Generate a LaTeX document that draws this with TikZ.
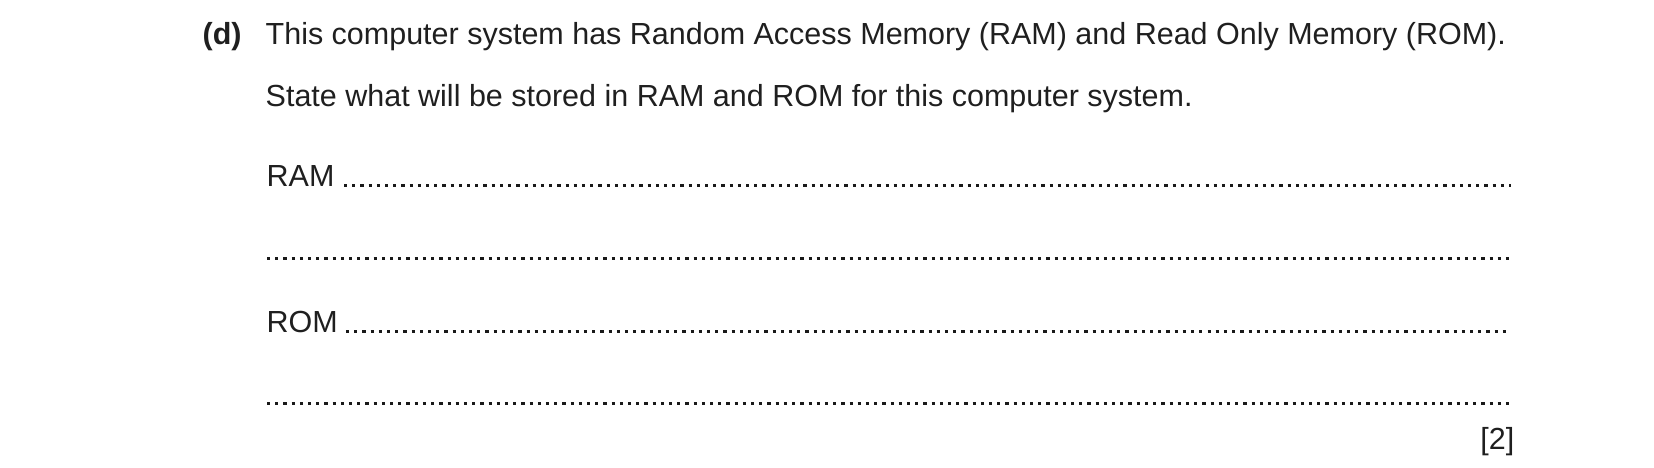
\documentclass[tikz,border=0pt]{standalone}
\usepackage{fontspec}
\setmainfont{Liberation Sans}
\usetikzlibrary{positioning}

\begin{document}
\begin{tikzpicture}[
  x=0.01cm,y=-0.01cm,
  txt/.style={anchor=base west,inner sep=0pt,text=black!88},
  answer/.style={draw=black!90,line width=0.032cm,dash pattern=on 0.032cm off 0.05cm},
  font=\fontsize{8.67}{10}\selectfont
]
\useasboundingbox (0,0) rectangle (1654,468);

% Question text
\node[txt,font=\fontsize{8.67}{10}\selectfont\bfseries] (part) at (202,45) {(d)};
\node[txt] (q1) at (265,45) {This computer system has Random Access Memory (RAM) and Read Only Memory (ROM).};
\node[txt] (q2) at (265,107) {State what will be stored in RAM and ROM for this computer system.};

% Answer lines
\node[txt] (ram) at (266,187) {RAM};
\node[txt] (rom) at (266,333) {ROM};
\coordinate (ramA) at (344,185.5);
\coordinate (ramB) at (1511,185.5);
\coordinate (ramC) at (267,258.5);
\coordinate (ramD) at (1511,258.5);
\coordinate (romA) at (346,331.5);
\coordinate (romB) at (1511,331.5);
\coordinate (romC) at (267,403.5);
\coordinate (romD) at (1511,403.5);
\draw[answer] (ramA) -- (ramB);
\draw[answer] (ramC) -- (ramD);
\draw[answer] (romA) -- (romB);
\draw[answer] (romC) -- (romD);

% Marks
\node[txt,anchor=base east] (marks) at (1515,450) {[2]};

\end{tikzpicture}
\end{document}
